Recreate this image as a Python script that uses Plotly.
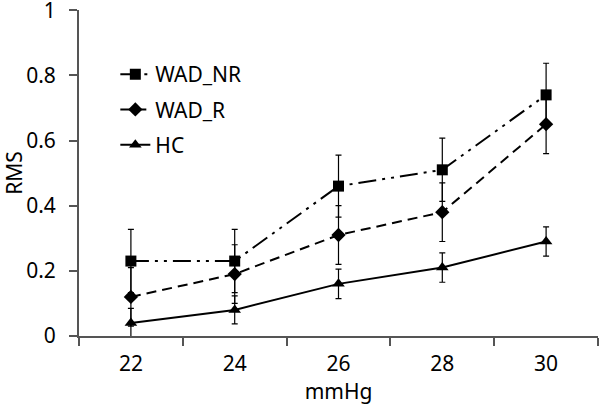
import plotly.graph_objects as go

categories = ["22", "24", "26", "28", "30"]
wad_nr = [0.23, 0.23, 0.46, 0.51, 0.74]
wad_nr_err = [0.097, 0.097, 0.095, 0.097, 0.097]
wad_r = [0.12, 0.19, 0.31, 0.38, 0.65]
wad_r_err = [0.09, 0.09, 0.09, 0.09, 0.09]
hc = [0.04, 0.08, 0.16, 0.21, 0.29]
hc_err = [0.045, 0.043, 0.045, 0.045, 0.045]

FONT = "Noto Sans"
AX = "#555555"

fig = go.Figure()

def add(name, y, err, symbol, dash, msize):
    fig.add_trace(go.Scatter(
        x=categories, y=y, name=name, mode="lines+markers", legendgroup=name,
        line=dict(color="black", width=2, dash=dash),
        marker=dict(symbol=symbol, size=msize, color="black"),
        error_y=dict(type="data", array=err, visible=True, color="black",
                     thickness=1.2, width=3),
    ))

add("WAD_NR", wad_nr, wad_nr_err, "square", "18px,6px,3px,6px,3px,6px", 11)
add("WAD_R", wad_r, wad_r_err, "diamond", "10px,6px", 11)
add("HC", hc, hc_err, "triangle-up", "solid", 11)

fig.update_layout(
    width=600, height=409,
    margin=dict(l=79, r=2, t=10, b=73, autoexpand=False),
    paper_bgcolor="white", plot_bgcolor="white",
    font=dict(family=FONT, size=20, color="black"),
    showlegend=True,
    legend=dict(x=0.07, y=0.865, xanchor="left", yanchor="top",
                bgcolor="rgba(0,0,0,0)", font=dict(size=21, family=FONT),
                tracegroupgap=5, traceorder="grouped", itemwidth=30),
    xaxis=dict(type="category", tickson="boundaries", range=[-0.5, 4.5],
               automargin=False,
               showline=True, linecolor=AX, linewidth=2,
               ticks="outside", ticklen=8, tickcolor=AX, tickwidth=2,
               showgrid=False, zeroline=False, ticklabelstandoff=8,
               tickfont=dict(size=21, family=FONT),
               title=dict(text="mmHg", font=dict(size=21, family=FONT), standoff=2)),
    yaxis=dict(range=[0, 1.0005], tickvals=[0, 0.2, 0.4, 0.6, 0.8, 1],
               ticktext=["0", "0.2", "0.4", "0.6", "0.8", "1"],
               automargin=False, ticklabeloverflow="allow",
               showline=True, linecolor=AX, linewidth=2,
               ticks="outside", ticklen=8, tickcolor=AX, tickwidth=2,
               showgrid=False, zeroline=False, ticklabelstandoff=9,
               tickfont=dict(size=21, family=FONT),
               title=dict(text="RMS", font=dict(size=21, family=FONT), standoff=0)),
)

fig.write_html("out.html", config={"displayModeBar": False},
               post_script="document.body.style.margin='0';")
